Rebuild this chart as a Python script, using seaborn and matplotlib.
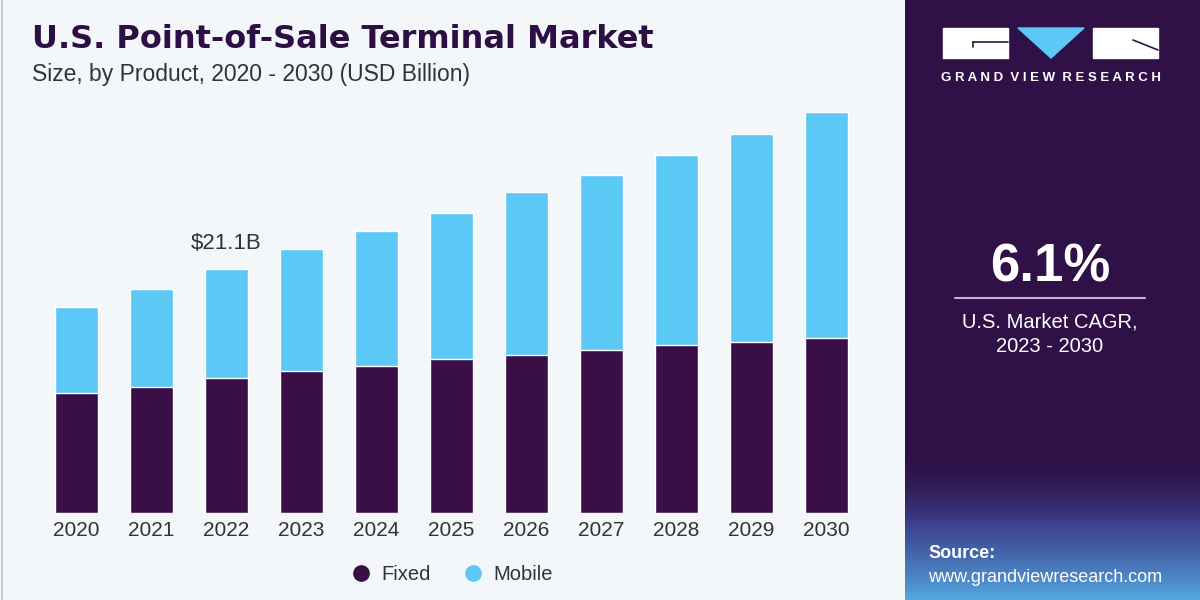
import numpy as np
import pandas as pd
import matplotlib
matplotlib.use('Agg')
import matplotlib.pyplot as plt
import seaborn as sns
from matplotlib.lines import Line2D
from matplotlib.patches import Rectangle, Polygon
from matplotlib.colors import LinearSegmentedColormap

sns.set_theme(style="white")
plt.rcParams['font.family'] = ['Liberation Sans', 'DejaVu Sans']

# --- data (USD Billion) ---
years = ['2020', '2021', '2022', '2023', '2024', '2025', '2026', '2027', '2028', '2029', '2030']
fixed = [10.4, 10.9, 11.7, 12.3, 12.7, 13.3, 13.7, 14.1, 14.5, 14.8, 15.1]
mobile = [7.4, 8.5, 9.4, 10.6, 11.7, 12.7, 14.1, 15.2, 16.5, 18.0, 19.6]
highlight_year = '2022'
highlight_label = '$21.1B'
cagr = '6.1%'

FIXED_C = '#3A0F47'
MOBILE_C = '#5BC8F5'
PANEL_C = '#2F1147'
BG = '#F3F7FA'

df = pd.DataFrame({'year': years, 'fixed': fixed, 'mobile': mobile})
df['total'] = df['fixed'] + df['mobile']

fig = plt.figure(figsize=(12, 6), dpi=100, facecolor=BG)

def fx(px):
    return px / 1200

def fy(py):
    return 1 - py / 600

# --- main bar chart ---
ax = fig.add_axes([fx(39), fy(512.5), 825 / 1200, 415 / 600])
ax.set_facecolor(BG)
sns.barplot(data=df, x='year', y='total', color=MOBILE_C, width=0.57,
            saturation=1, ax=ax, order=years)
sns.barplot(data=df, x='year', y='fixed', color=FIXED_C, width=0.57,
            saturation=1, ax=ax, order=years)
ax.set_xlim(-0.5, len(years) - 0.5)
ax.set_ylim(0, 36)
ax.set_xlabel('')
ax.set_ylabel('')
ax.set_yticks([])
ax.tick_params(axis='x', length=0, pad=6, labelsize=15, labelcolor='#333333')
for s in ax.spines.values():
    s.set_visible(False)

hi = years.index(highlight_year)
ax.annotate(highlight_label, (hi, df['total'][hi]), xytext=(0, 11),
            textcoords='offset points', ha='center', va='bottom',
            fontsize=16, color='#333333')

# titles
fig.text(fx(32), fy(40), 'U.S. Point-of-Sale Terminal Market', fontsize=23,
         fontweight='bold', color='#2E0F44', va='center', ha='left',
         family=['DejaVu Sans'])
fig.text(fx(32), fy(75), 'Size, by Product, 2020 - 2030 (USD Billion)',
         fontsize=16.5, color='#333333', va='center', ha='left')

# legend
handles = [Line2D([], [], marker='o', ls='', markersize=11, color=FIXED_C),
           Line2D([], [], marker='o', ls='', markersize=11, color=MOBILE_C)]
fig.legend(handles, ['Fixed', 'Mobile'], loc='center', bbox_to_anchor=(fx(452), fy(575)),
           ncol=2, frameon=False, fontsize=14.5, handlelength=1.0, handletextpad=0.5,
           columnspacing=1.6, labelcolor='#333333')

# thin left border
fig.add_artist(Line2D([fx(2), fx(2)], [0, 1], color='#C8CBD0', lw=1.5))

# --- right panel ---
pan = fig.add_axes([fx(905), 0, 295 / 1200, 1])
pan.axis('off')
pan.add_patch(Rectangle((905, 0), 295, 600, color=PANEL_C, zorder=0))

grad_cmap = LinearSegmentedColormap.from_list(
    'grad', [(0.18, 0.07, 0.28, 0.0), (0.25, 0.30, 0.62, 0.85), (0.33, 0.66, 0.88, 1.0)])
grad = np.linspace(0, 1, 200).reshape(-1, 1)
pan.imshow(grad, cmap=grad_cmap, extent=[905, 1200, 600, 450], aspect='auto',
           origin='upper', zorder=1)
pan.set_xlim(905, 1200)
pan.set_ylim(600, 0)

# logo
pan.add_patch(Rectangle((943, 28), 65, 30, color='white', zorder=2))
pan.plot([973, 1008], [42, 42], color=PANEL_C, lw=1.2, zorder=3)
pan.plot([973, 973], [42, 47], color=PANEL_C, lw=1.2, zorder=3)
pan.add_patch(Polygon([[1018, 28], [1084, 28], [1051, 58]], closed=True,
                      color=MOBILE_C, zorder=2))
pan.add_patch(Rectangle((1093, 28), 65, 30, color='white', zorder=2))
pan.plot([1133, 1158], [40, 50], color=PANEL_C, lw=1.2, zorder=3)
pan.text(1050.5, 78, 'G R A N D   V I E W   R E S E A R C H'.replace('   ', '  '),
         fontsize=9.5, fontweight='bold', color='white', ha='center', va='center',
         zorder=3)

pan.text(1050, 267, cagr, fontsize=38, fontweight='bold', color='white',
         ha='center', va='center', zorder=3)
pan.plot([955, 1145], [298, 298], color='#C7B3DD', lw=1.5, zorder=3)
pan.text(1050, 322, 'U.S. Market CAGR,', fontsize=14.5, color='white',
         ha='center', va='center', zorder=3)
pan.text(1050, 346, '2023 - 2030', fontsize=14.5, color='white',
         ha='center', va='center', zorder=3)

pan.text(928, 553, 'Source:', fontsize=13, fontweight='bold', color='white',
         ha='left', va='center', zorder=3)
pan.text(928, 577, 'www.grandviewresearch.com', fontsize=13, color='white',
         ha='left', va='center', zorder=3)

fig.savefig('out.png', dpi=100, facecolor=BG)
